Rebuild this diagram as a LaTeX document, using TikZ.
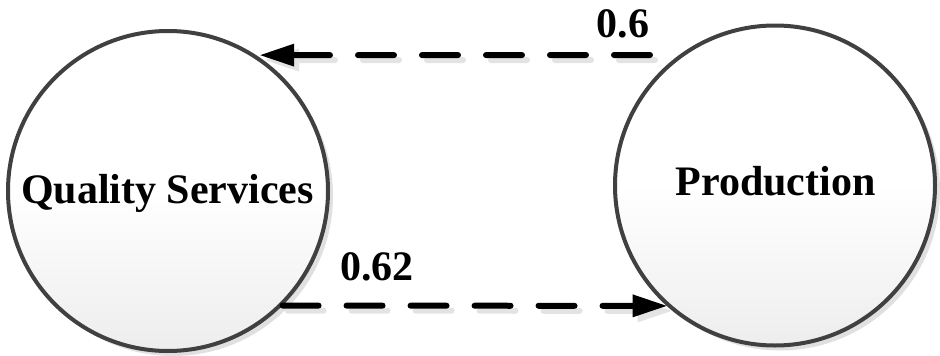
\documentclass[tikz,border=0pt]{standalone}
\usepackage{fontspec}
\setmainfont{Liberation Serif}
\usetikzlibrary{arrows.meta,shadows}
\begin{document}
\begin{tikzpicture}[x=1pt,y=-1pt,
  bubble/.style={circle, draw=black!75, line width=4pt, minimum size=320pt, inner sep=0pt,
    top color=white, bottom color=black!7, middle color=white,
    drop shadow={shadow xshift=5pt, shadow yshift=-5pt, fill=black!12, opacity=1}},
  lbl/.style={inner sep=0pt, font=\bfseries\fontsize{42}{50}\selectfont, anchor=base},
  flow/.style={line width=6pt, line cap=round, dash pattern=on 36pt off 28pt,
    -{Triangle[length=34pt,width=23pt,line width=0pt]}},
  flowshadow/.style={flow, draw=black!11, transform canvas={xshift=5pt,yshift=-5pt}}
]
\useasboundingbox (0,0) rectangle (940,356);
\node[bubble] (QS) at (168,191) {};
\node[bubble] (P) at (775,185.5) {};
\node[lbl] (qsl) at (167.5,203) {Quality Services};
\node[lbl] (pl) at (775.5,195) {Production};
\coordinate (t1) at (650,55);
% shadows of connectors
\draw[flowshadow, shorten >=4pt] (t1) -- (QS.57);
\draw[flowshadow] (QS.-45.7) -- (P.228.6);
% connectors
\draw[flow, shorten >=4pt] (t1) -- (QS.57);
\draw[flow] (QS.-45.7) -- (P.228.6);
\node[lbl] (w1) at (623,37) {0.6};
\node[lbl] (w2) at (377,280) {0.62};
\end{tikzpicture}
\end{document}
